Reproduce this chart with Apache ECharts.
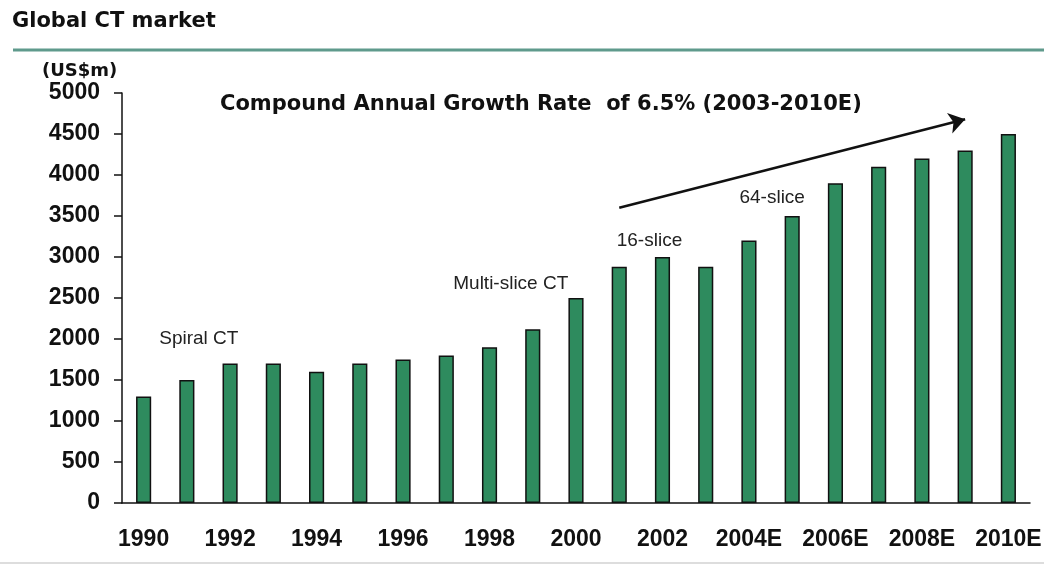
<!DOCTYPE html>
<html><head><meta charset="utf-8">
<script src="https://cdn.jsdelivr.net/npm/echarts@6/dist/echarts.min.js"></script>
<style>html,body{margin:0;padding:0;background:#fff}#c{width:1044px;height:566px}</style>
</head><body><div id="c"></div>
<script>
const categories = ['1990','1991','1992','1993','1994','1995','1996','1997','1998','1999','2000','2001','2002','2003','2004E','2005E','2006E','2007E','2008E','2009E','2010E'];
const marketValues = [1300,1500,1700,1700,1600,1700,1750,1800,1900,2120,2500,2880,3000,2880,3200,3500,3900,4100,4200,4300,4500];
const yTicks = {min:0, max:5000, interval:500};
const annotations = [
  {text:'Spiral CT', coord:['1991', 2000], offset:[12,0]},
  {text:'Multi-slice CT', coord:['1999', 2670], offset:[-22,0]},
  {text:'16-slice', coord:['2002', 3200], offset:[-13,0]},
  {text:'64-slice', coord:['2005E', 3720], offset:[-20,0]}
];
const arrowFrom = ['2001', 3600];
const arrowTo = ['2009E', 4680];

const font = 'Liberation Sans, Arial, sans-serif';
const wide = 'DejaVu Sans, Verdana, sans-serif';
const chart = echarts.init(document.getElementById('c'));
chart.setOption({
  animation:false,
  backgroundColor:'#fff',
  grid:{left:122, right:14, top:93, bottom:63, outerBoundsMode:'none', containLabel:false},
  graphic:[
    {type:'text', left:12, top:11, style:{text:'Global CT market', font:'bold 21px '+wide, fill:'#111'}},
    {type:'line', shape:{x1:13,y1:50,x2:1044,y2:50}, style:{stroke:'#5f9a8c', lineWidth:3}},
    {type:'line', shape:{x1:0,y1:563,x2:1044,y2:563}, style:{stroke:'#dddddd', lineWidth:2}},
    {type:'text', left:42, top:62, style:{text:'(US$m)', font:'bold 18px '+wide, fill:'#111'}},
    {type:'text', left:220, top:94, style:{text:'Compound Annual Growth Rate  of 6.5% (2003-2010E)', font:'bold 21px '+wide, fill:'#111'}}
  ],
  xAxis:{
    type:'category', data:categories,
    axisLine:{lineStyle:{color:'#111', width:1.5}},
    axisTick:{length:7, lineStyle:{color:'#111', width:1.5}},
    axisLabel:{interval:1, margin:25, color:'#111', fontFamily:font, fontWeight:'bold', fontSize:23}
  },
  yAxis:{
    type:'value', min:yTicks.min, max:yTicks.max, interval:yTicks.interval,
    splitLine:{show:false},
    axisLine:{show:true, lineStyle:{color:'#111', width:1.5}},
    axisTick:{show:true, length:8, lineStyle:{color:'#111', width:1.5}},
    axisLabel:{margin:22, color:'#111', fontFamily:font, fontWeight:'bold', fontSize:23, formatter:v=>String(v)}
  },
  series:[{
    type:'bar', data:marketValues, barWidth:'35%',
    itemStyle:{color:'#2e8b5e', borderColor:'#111', borderWidth:1.5},
    markPoint:{
      symbol:'circle', symbolSize:0,
      label:{show:true, position:'inside', color:'#222', fontFamily:font, fontSize:19},
      data:annotations.map(a=>({coord:a.coord, value:a.text, label:{formatter:a.text, offset:a.offset}}))
    },
    markLine:{
      silent:true, symbol:['none','arrow'], symbolSize:16,
      lineStyle:{color:'#111', width:2.5, type:'solid'},
      label:{show:false},
      data:[[{coord:arrowFrom},{coord:arrowTo}]]
    }
  }]
});
</script></body></html>
